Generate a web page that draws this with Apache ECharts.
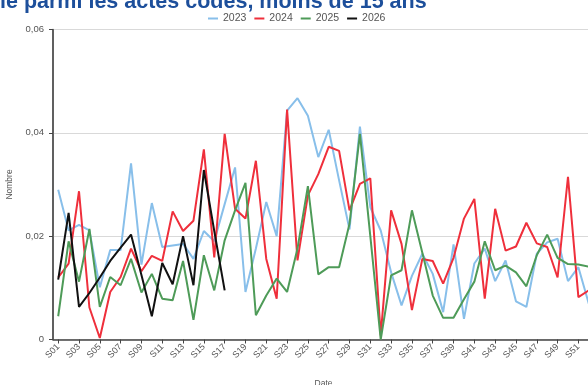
<!DOCTYPE html>
<html>
<head>
<meta charset="utf-8">
<script src="https://cdn.jsdelivr.net/npm/echarts@6/dist/echarts.min.js"></script>
<style>
html,body{margin:0;padding:0;background:#fff;overflow:hidden;}
#chart{width:588px;height:385px;}
</style>
</head>
<body>
<div id="chart"></div>
<script>
const weeks = ["S01","S02","S03","S04","S05","S06","S07","S08","S09","S10","S11","S12","S13","S14","S15","S16","S17","S18","S19","S20","S21","S22","S23","S24","S25","S26","S27","S28","S29","S30","S31","S32","S33","S34","S35","S36","S37","S38","S39","S40","S41","S42","S43","S44","S45","S46","S47","S48","S49","S50","S51","S52"];

const y2023 = [0.0290,0.0211,0.0222,0.0211,0.0101,0.0173,0.0173,0.0341,0.0145,0.0264,0.0179,0.0182,0.0185,0.0156,0.0210,0.0190,0.0262,0.0333,0.0092,0.0176,0.0266,0.0200,0.0443,0.0467,0.0433,0.0353,0.0406,0.0308,0.0213,0.0412,0.0256,0.0211,0.0130,0.0066,0.0123,0.0166,0.0127,0.0053,0.0184,0.0040,0.0147,0.0176,0.0113,0.0153,0.0074,0.0063,0.0166,0.0188,0.0195,0.0113,0.0140,0.0069];

const y2024 = [0.0120,0.0147,0.0287,0.0062,0.0003,0.0092,0.0121,0.0176,0.0132,0.0162,0.0152,0.0248,0.0210,0.0230,0.0368,0.0159,0.0398,0.0253,0.0234,0.0346,0.0156,0.0079,0.0445,0.0153,0.0279,0.0320,0.0373,0.0365,0.0250,0.0301,0.0312,0.0008,0.0250,0.0185,0.0057,0.0156,0.0152,0.0108,0.0158,0.0234,0.0272,0.0079,0.0253,0.0172,0.0180,0.0226,0.0186,0.0179,0.0120,0.0315,0.0082,0.0095];

const y2025 = [0.0045,0.0190,0.0112,0.0214,0.0063,0.0121,0.0105,0.0156,0.0091,0.0127,0.0079,0.0076,0.0152,0.0038,0.0163,0.0095,0.0192,0.0250,0.0303,0.0047,0.0085,0.0118,0.0092,0.0176,0.0297,0.0126,0.0140,0.0140,0.0224,0.0398,0.0200,0.0000,0.0124,0.0134,0.0250,0.0168,0.0085,0.0042,0.0042,0.0078,0.0112,0.0190,0.0134,0.0143,0.0130,0.0103,0.0163,0.0203,0.0158,0.0146,0.0145,0.0141];

const y2026 = [0.0116,0.0245,0.0063,0.0090,0.0120,0.0152,0.0178,0.0203,0.0125,0.0045,0.0148,0.0107,0.0200,0.0105,0.0328,0.0210,0.0095];

const seriesNames = ["2023","2024","2025","2026"];
const seriesColors = ["#88bfea","#ef2f3b","#4e9b58","#111111"];
const seriesData = [y2023, y2024, y2025, y2026];

const yTicks = {min: 0, max: 0.06, interval: 0.02};
const titleText = "ie parmi les actes codés, moins de 15 ans";
const xName = "Date";
const yName = "Nombre";

const chart = echarts.init(document.getElementById('chart'), null, {renderer: 'canvas'});

const option = {
  animation: false,
  backgroundColor: '#ffffff',
  textStyle: {fontFamily: 'Liberation Sans, Arial, sans-serif'},
  graphic: [{
    type: 'text',
    left: 0,
    top: -9,
    style: {
      text: titleText,
      font: 'bold 21.5px "Liberation Sans", Arial, sans-serif',
      fill: '#1d4f9b'
    }
  }],
  legend: {
    data: seriesNames,
    left: 208,
    top: 13,
    itemWidth: 10,
    itemHeight: 2,
    itemGap: 8,
    icon: 'rect',
    textStyle: {fontSize: 10.5, color: '#555'},
    padding: 0
  },
  grid: {
    left: 53,
    top: 29.5,
    width: 541,
    height: 310,
    show: true,
    borderColor: '#666',
    borderWidth: 1,
    backgroundColor: 'transparent',
    containLabel: false,
    outerBoundsMode: 'none'
  },
  xAxis: {
    type: 'category',
    data: weeks,
    boundaryGap: true,
    name: xName,
    nameLocation: 'middle',
    nameGap: 40,
    nameTextStyle: {fontSize: 8.5, color: '#555'},
    axisLine: {show: true, lineStyle: {color: '#444', width: 1.5}},
    axisTick: {show: true, alignWithLabel: true, interval: 1, length: 4, lineStyle: {color: '#444'}},
    axisLabel: {interval: 1, rotate: 45, fontSize: 9, color: '#555', margin: 6},
    splitLine: {show: false}
  },
  yAxis: {
    type: 'value',
    min: yTicks.min,
    max: yTicks.max,
    interval: yTicks.interval,
    name: yName,
    nameLocation: 'middle',
    nameGap: 39,
    nameRotate: 90,
    nameTextStyle: {fontSize: 8.5, color: '#555'},
    axisLine: {show: true, lineStyle: {color: '#444', width: 1.5}},
    axisTick: {show: true, length: 4, lineStyle: {color: '#444'}},
    axisLabel: {
      fontSize: 9.5, color: '#555', margin: 9,
      formatter: function (v) { return v === 0 ? '0' : v.toFixed(2).replace('.', ','); }
    },
    splitLine: {show: true, lineStyle: {color: '#d9d9d9', width: 1}}
  },
  series: seriesNames.map(function (name, i) {
    return {
      name: name,
      type: 'line',
      data: seriesData[i],
      showSymbol: false,
      symbol: 'none',
      smooth: false,
      color: seriesColors[i],
      lineStyle: {color: seriesColors[i], width: 2},
      z: 2 + i
    };
  })
};

chart.setOption(option);
</script>
</body>
</html>
